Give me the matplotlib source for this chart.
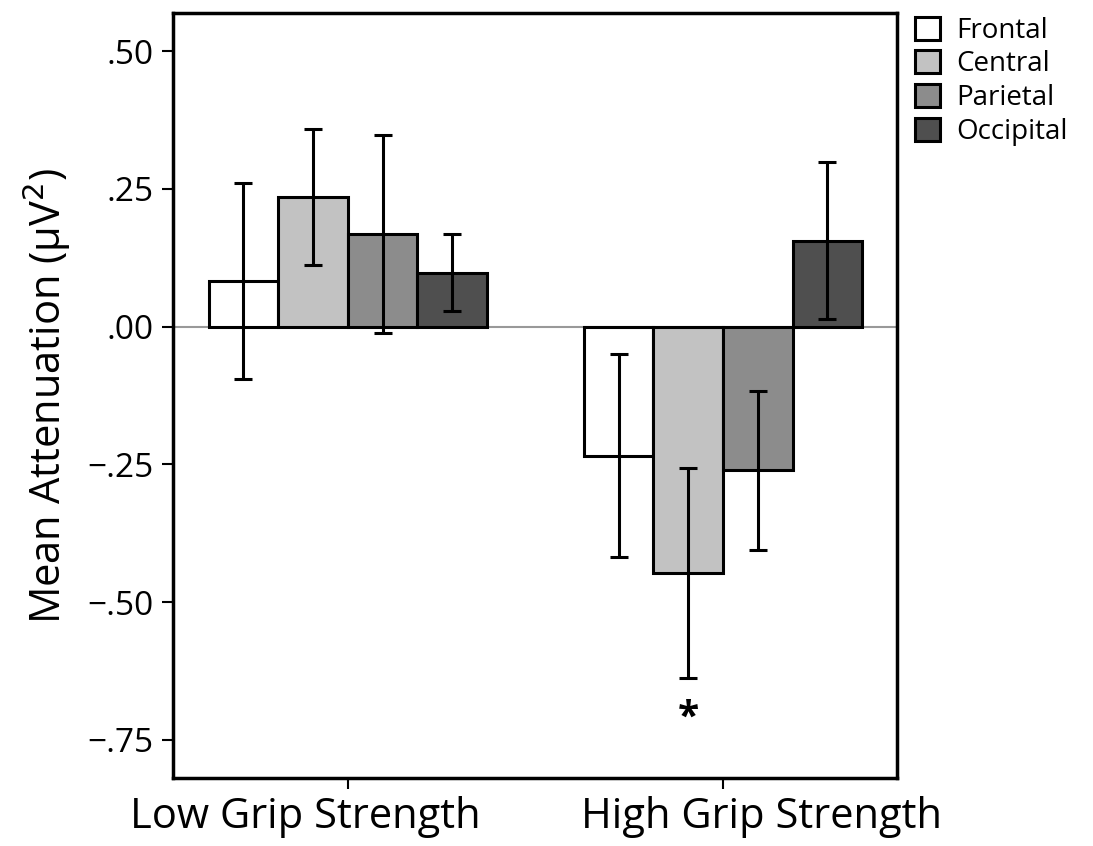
import matplotlib
matplotlib.use("Agg")
import matplotlib.pyplot as plt
import matplotlib.transforms as mtransforms
import numpy as np

plt.rcParams['font.family'] = ['Open Sans', 'DejaVu Sans']

groups = ["Low Grip Strength", "High Grip Strength"]
regions = ["Frontal", "Central", "Parietal", "Occipital"]
colors = ["#ffffff", "#c2c2c2", "#8c8c8c", "#4f4f4f"]
# mean attenuation per region, [low, high]
means = {
    "Frontal": [0.083, -0.234],
    "Central": [0.235, -0.447],
    "Parietal": [0.168, -0.261],
    "Occipital": [0.098, 0.156],
}
errs = {
    "Frontal": [0.178, 0.184],
    "Central": [0.124, 0.19],
    "Parietal": [0.18, 0.144],
    "Occipital": [0.07, 0.142],
}
yticks = [0.5, 0.25, 0.0, -0.25, -0.5, -0.75]
ytick_labels = [".50", ".25", ".00", "\u2212.25", "\u2212.50", "\u2212.75"]
star_y = -0.71

fig = plt.figure(figsize=(10.93, 8.46), dpi=100)
ax = fig.add_axes([0.1583, 0.0804, 0.6624, 0.9042])

x = np.arange(len(groups))
w = 0.1855
ax.axhline(0, color="#999999", lw=1.5, zorder=1)
handles = []
for i, r in enumerate(regions):
    pos = x + (i - 1.5) * w
    b = ax.bar(pos, means[r], w, color=colors[i], edgecolor="black",
               linewidth=2.2, zorder=2, label=r)
    ax.errorbar(pos, means[r], yerr=errs[r], fmt="none", ecolor="black",
                elinewidth=2.2, capsize=6.5, capthick=2.2, zorder=3)
    handles.append(b)

ax.text(x[1] - 0.5 * w, star_y, "*", ha="center", va="center",
        fontsize=28, fontweight="bold")

ax.set_xlim(-0.466, 1.464)
ax.set_ylim(-0.819, 0.569)
ax.set_yticks(yticks)
ax.set_yticklabels(ytick_labels, fontsize=24)
ax.set_xticks(x)
ax.set_xticklabels(groups, fontsize=30)
ax.tick_params(axis="x", length=8, width=1.5, pad=5)
ax.tick_params(axis="y", length=8, width=1.5, pad=6)
# the group labels sit a little off their ticks, outward
for lab, dx in zip(ax.get_xticklabels(), [-0.43, 0.39]):
    lab.set_transform(lab.get_transform() +
                      mtransforms.ScaledTranslation(dx, 0, fig.dpi_scale_trans))
for s in ax.spines.values():
    s.set_linewidth(2.5)
ax.set_ylabel("Mean Attenuation (\u03bcV$^2$)", fontsize=30, labelpad=10)

fig.legend(handles=handles, labels=regions, loc="upper left",
           bbox_to_anchor=(0.832, 0.987), frameon=False, fontsize=20,
           handlelength=0.9, handleheight=0.9, handletextpad=0.6,
           labelspacing=0.2, borderaxespad=0, borderpad=0.2)

fig.savefig("out.png", dpi=100)
